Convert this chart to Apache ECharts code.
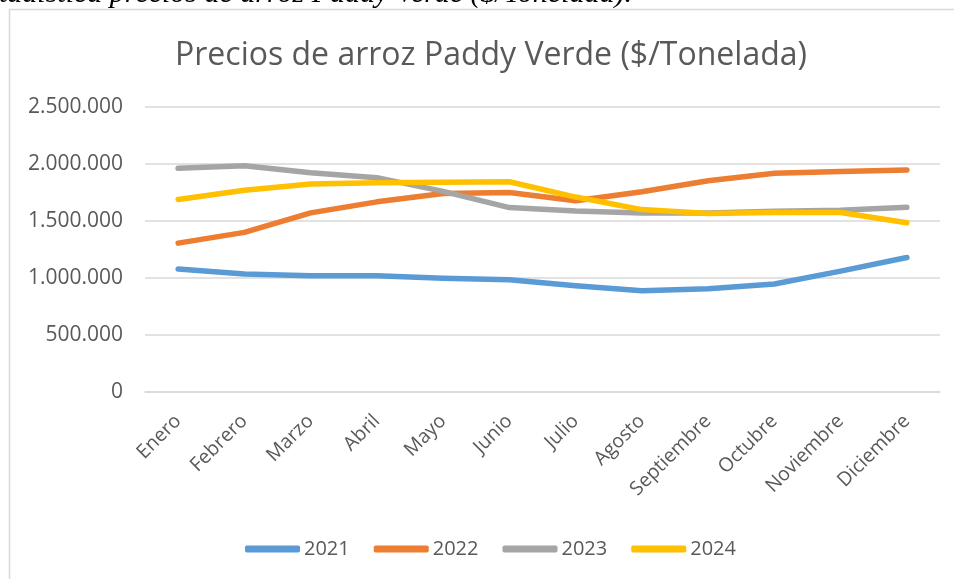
<!DOCTYPE html>
<html>
<head>
<meta charset="utf-8">
<script src="https://cdn.jsdelivr.net/npm/echarts@6/dist/echarts.min.js"></script>
<style>html,body{margin:0;padding:0;background:#fff;}#c{width:954px;height:579px;}</style>
</head>
<body>
<div id="c"></div>
<script>
const categories = ['Enero','Febrero','Marzo','Abril','Mayo','Junio','Julio','Agosto','Septiembre','Octubre','Noviembre','Diciembre'];
const s2021 = [1079000,1035000,1020000,1020000,997000,985000,932000,888000,906000,947000,1060000,1180000];
const s2022 = [1306000,1400000,1571000,1668000,1741000,1750000,1677000,1756000,1853000,1918000,1935000,1947000];
const s2023 = [1962000,1985000,1923000,1880000,1760000,1618000,1588000,1571000,1570000,1585000,1594000,1620000];
const s2024 = [1689000,1770000,1824000,1835000,1840000,1844000,1710000,1600000,1565000,1574000,1574000,1485000];
const seriesNames = ['2021','2022','2023','2024'];
const yTicks = [0,500000,1000000,1500000,2000000,2500000];
const titleText = 'Precios de arroz Paddy Verde ($/Tonelada)';
const captionText = 'Estadística precios de arroz Paddy Verde ($/Tonelada).';

const colors = ['#5B9BD5','#ED7D31','#A5A5A5','#FFC000'];
const font = '"Open Sans", "Noto Sans", sans-serif';
function fmt(v){ return String(v).replace(/\B(?=(\d{3})+(?!\d))/g,'.'); }

const chart = echarts.init(document.getElementById('c'), null, {renderer:'canvas'});
const data = [s2021,s2022,s2023,s2024];
chart.setOption({
  animation:false,
  color: colors,
  title:{
    text:titleText, left:486, textAlign:'center', top:35,
    textStyle:{fontFamily:font, fontSize:32, fontWeight:'normal', color:'#595959'}
  },
  graphic:[
    {type:'rect', shape:{x:9.5,y:9.5,width:960,height:600}, style:{fill:'none', stroke:'#d9d9d9', lineWidth:1.5}, silent:true},
    {type:'text', x:632, y:-6, style:{text:captionText, align:'right', verticalAlign:'middle', font:'italic 30px "Liberation Serif", "Times New Roman", serif', fill:'#000'}}
  ],
  grid:{left:145, right:14, top:107, bottom:187, containLabel:false},
  legend:{
    top:534, left:240, itemWidth:55, itemHeight:7, itemGap:24,
    icon:'roundRect',
    data:seriesNames,
    textStyle:{fontFamily:font, fontSize:20, color:'#595959', padding:[0,0,0,-1]}
  },
  xAxis:{
    type:'category', data:categories, boundaryGap:true,
    axisLine:{show:true, lineStyle:{color:'#d9d9d9', width:1.5}},
    axisTick:{show:false},
    axisLabel:{rotate:45, interval:0, fontFamily:font, fontSize:19.5, color:'#595959', margin:26}
  },
  yAxis:{
    type:'value', min:yTicks[0], max:yTicks[yTicks.length-1], interval:500000,
    axisLine:{show:false}, axisTick:{show:false},
    splitLine:{lineStyle:{color:'#d9d9d9', width:1.5}},
    axisLabel:{fontFamily:font, fontSize:21, color:'#595959', margin:22, formatter:fmt}
  },
  series: seriesNames.map((n,i)=>({
    name:n, type:'line', data:data[i], symbol:'none',
    lineStyle:{width:5.5, color:colors[i], cap:'round', join:'round'},
    itemStyle:{color:colors[i]}
  }))
});
</script>
</body>
</html>
